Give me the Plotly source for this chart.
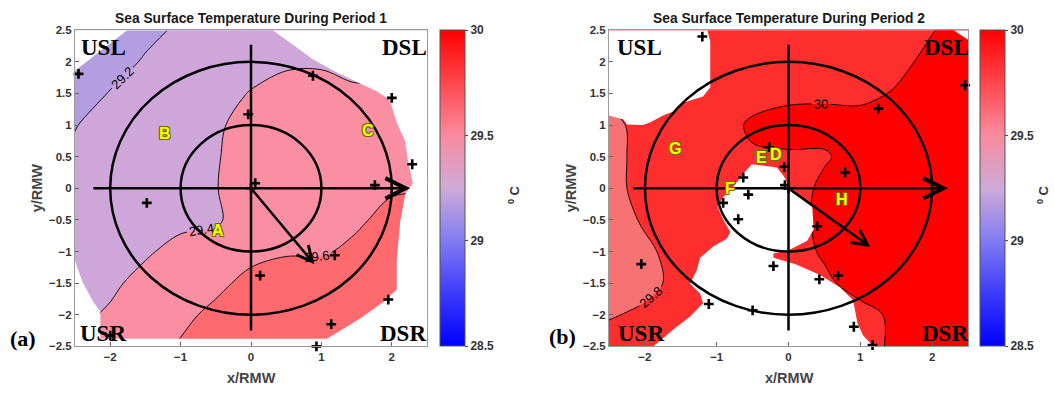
import plotly.graph_objects as go

# ---------------- data ----------------
grid_x = [-2.5, -2.0, -1.5, -1.0, -0.5, 0.0, 0.5, 1.0, 1.5, 2.0, 2.5]
grid_y = [-2.5, -2.0, -1.5, -1.0, -0.5, 0.0, 0.5, 1.0, 1.5, 2.0, 2.5]

# SST (deg C), rows = grid_y (bottom -> top), cols = grid_x
sst_period1 = [
    [29.40, 29.45, 29.52, 29.62, 29.68, 29.72, 29.74, 29.76, 29.77, 29.78, 29.79],
    [29.36, 29.42, 29.48, 29.55, 29.65, 29.70, 29.72, 29.72, 29.74, 29.75, 29.76],
    [29.33, 29.37, 29.45, 29.50, 29.55, 29.66, 29.68, 29.68, 29.70, 29.72, 29.74],
    [29.30, 29.33, 29.38, 29.45, 29.47, 29.54, 29.585, 29.585, 29.63, 29.67, 29.70],
    [29.27, 29.30, 29.33, 29.36, 29.38, 29.48, 29.52, 29.56, 29.58, 29.64, 29.66],
    [29.25, 29.28, 29.31, 29.35, 29.395, 29.47, 29.52, 29.55, 29.57, 29.585, 29.59],
    [29.22, 29.27, 29.30, 29.34, 29.39, 29.46, 29.50, 29.52, 29.53, 29.53, 29.52],
    [29.195, 29.25, 29.30, 29.33, 29.38, 29.45, 29.50, 29.50, 29.50, 29.48, 29.45],
    [29.10, 29.21, 29.26, 29.30, 29.33, 29.41, 29.45, 29.46, 29.41, 29.42, 29.38],
    [29.00, 29.12, 29.22, 29.28, 29.30, 29.33, 29.38, 29.38, 29.38, 29.38, 29.38],
    [28.95, 29.05, 29.15, 29.23, 29.30, 29.32, 29.35, 29.35, 29.35, 29.35, 29.35],
]
sst_period2 = [
    [29.85, 29.88, 29.90, 29.91, 29.92, 29.93, 29.94, 29.96, 30.02, 30.08, 30.10],
    [29.79, 29.82, 29.88, 29.90, 29.92, 29.93, 29.94, 29.95, 30.03, 30.10, 30.12],
    [29.72, 29.77, 29.83, 29.87, 29.90, 29.93, 29.97, 30.06, 30.10, 30.12, 30.12],
    [29.74, 29.785, 29.83, 29.88, 29.90, 29.93, 30.02, 30.06, 30.10, 30.12, 30.12],
    [29.76, 29.81, 29.88, 29.90, 29.92, 29.95, 30.03, 30.08, 30.10, 30.12, 30.12],
    [29.77, 29.83, 29.88, 29.90, 29.92, 29.93, 30.03, 30.08, 30.10, 30.12, 30.12],
    [29.75, 29.85, 29.88, 29.90, 29.985, 29.985, 29.985, 30.06, 30.10, 30.12, 30.12],
    [29.75, 29.86, 29.90, 29.94, 30.02, 30.05, 30.05, 30.05, 30.07, 30.10, 30.12],
    [29.85, 29.88, 29.90, 29.93, 29.95, 29.97, 29.975, 29.97, 30.01, 30.06, 30.10],
    [29.90, 29.90, 29.90, 29.92, 29.93, 29.94, 29.95, 29.96, 29.97, 30.03, 30.08],
    [29.90, 29.90, 29.90, 29.92, 29.93, 29.94, 29.95, 29.96, 29.97, 29.995, 30.05],
]

# contour levels
levels_period1 = [29.2, 29.6, 0.2]   # start, end, step
levels_period2 = [29.8, 30.0, 0.2]

# band fill colours (below first level ... above last level)
bands_period1 = ["rgb(180,158,226)", "rgb(207,166,218)", "rgb(250,143,163)", "rgb(255,106,110)"]
bands_period2 = ["rgb(247,114,114)", "rgb(255,46,46)", "rgb(255,0,0)"]

# colour bar scale (28.5 -> 30)
cbar_range = [28.5, 30.0]
cbar_ticks = [28.5, 29.0, 29.5, 30.0]
cbar_scale = [[0.0, "rgb(0,0,255)"], [0.17, "rgb(62,60,250)"], [0.33, "rgb(128,122,242)"],
              [0.5, "rgb(206,170,215)"], [0.67, "rgb(250,137,157)"], [0.83, "rgb(255,72,78)"],
              [1.0, "rgb(255,0,0)"]]

# regions without data (white) -- polygon vertices in x/RMW, y/RMW
p1_nodata_a_x = [-2.5, -1.76, -2.5]
p1_nodata_a_y = [2.5, 2.5, 1.86]
p1_edge_x = [0.31, 0.6, 0.88, 1.17, 1.55, 1.79, 1.97, 2.07, 2.19, 2.23, 2.3, 2.19, 2.12, 2.07,
             2.07, 1.88, 1.55, 1.26, 1.08, -2.14, -2.14, -2.24, -2.39, -2.5]
p1_edge_y = [2.5, 2.27, 2.04, 1.86, 1.66, 1.53, 1.4, 1.04, 0.74, 0.43, 0.08, -0.1, -0.52, -1.13,
             -1.6, -1.8, -2.06, -2.25, -2.38, -2.38, -1.95, -1.8, -1.49, -1.15]

p2_nodata_a_x = [-2.5, -1.13, -1.09, -1.09, -1.19, -1.48, -1.55, -1.75, -1.93, -2.03, -2.25, -2.3, -2.5]
p2_nodata_a_y = [2.5, 2.5, 2.32, 1.6, 1.45, 1.35, 1.24, 1.15, 1.04, 1.0, 1.01, 1.09, 1.15]
p2_nodata_b_x = [-0.51, -0.16, -0.07, 0.02, 0.14, 0.33, 0.35, 0.26, 0.0, -0.21, -0.21, -0.07, 0.1,
                 0.44, 0.72, 0.9, 0.96, 1.04, 1.18, -1.88, -1.6, -1.37, -1.19, -1.23, -1.37, -1.28,
                 -1.23, -1.05, -0.86, -0.81, -0.91, -0.99, -0.91, -0.77, -0.63]
p2_nodata_b_y = [0.38, 0.33, 0.2, 0.02, -0.1, -0.26, -0.65, -0.83, -0.98, -1.03, -1.1, -1.15, -1.2,
                 -1.37, -1.57, -1.77, -2.13, -2.33, -2.5, -2.5, -2.23, -2.03, -1.82, -1.67, -1.51,
                 -1.3, -1.1, -0.92, -0.8, -0.69, -0.49, -0.29, -0.14, 0.02, 0.23]
p2_nodata_c_x = [2.3, 2.5, 2.5]
p2_nodata_c_y = [2.5, 2.5, 2.35]

# observation points (+)
obs1_x = [-2.45, 0.88, 2.0, -0.04, 0.06, 0.0, 1.76, 2.29, -1.48, 1.19, 0.13, 1.95, 1.14, 0.93, -2.0]
obs1_y = [1.81, 1.78, 1.43, 1.17, 0.08, 0.0, 0.05, 0.38, -0.23, -1.06, -1.38, -1.76, -2.15, -2.5, -2.33]
obs2_x = [-1.2, 2.46, 1.25, -0.27, -0.06, -0.63, 0.79, -0.05, 0.0, -0.56, -0.91, -0.7, 0.4,
          -0.21, 0.69, 0.43, -2.05, -1.11, -0.5, 0.91, 1.17]
obs2_y = [2.4, 1.63, 1.26, 0.65, 0.34, 0.17, 0.25, 0.05, 0.0, -0.1, -0.23, -0.49, -0.6,
          -1.23, -1.38, -1.44, -1.2, -1.83, -1.93, -2.19, -2.48]

# site letters
sites1 = ["A", "B", "C"]
sites1_x = [-0.47, -1.22, 1.66]
sites1_y = [-0.67, 0.86, 0.92]
sites2 = ["G", "E", "D", "F", "H"]
sites2_x = [-1.58, -0.38, -0.17, -0.81, 0.74]
sites2_y = [0.63, 0.48, 0.54, 0.0, -0.17]

quadrants = ["USL", "DSL", "USR", "DSR"]
quad1_x = [-2.1, 2.18, -2.1, 2.16]
quad2_x = [-2.07, 2.2, -2.05, 2.18]
quad_y = [2.22, 2.22, -2.3, -2.3]

ring_radii = [1.0, 2.0]
arrow1_tip = [0.9, -1.2]
arrow2_tip = [1.14, -0.93]

titles = ["Sea Surface Temperature During Period 1", "Sea Surface Temperature During Period 2"]
panel_tags = ["(a)", "(b)"]

# ---------------- figure ----------------
W, H = 1054, 395
SANS = "Liberation Sans, Arial, sans-serif"
SERIF = "Liberation Serif, Times New Roman, serif"
px_x = lambda p: p / W
px_y = lambda p: 1 - p / H

dom1 = [px_x(75), px_x(427)]
dom2 = [px_x(609), px_x(968)]
ydom = [px_y(351), px_y(25)]


def stepped(colors):
    n = len(colors) - 1
    return [[i / n, c] for i, c in enumerate(colors)]


fig = go.Figure()

panels = [
    dict(xa="x", ya="y", z=sst_period1, lev=levels_period1, bands=bands_period1,
         masks=[(p1_nodata_a_x, p1_nodata_a_y),
                (p1_edge_x + [-2.5, 2.5, 2.5], p1_edge_y + [-2.5, -2.5, 2.5])],
         ox=obs1_x, oy=obs1_y, cbx=440, sites=(sites1, sites1_x, sites1_y), qx=quad1_x,
         tip=arrow1_tip, title=titles[0], tag=panel_tags[0], tagx=23, tagy=343,
         cx=251, ylab_x=37, unit_x=514, hx=(-2.26, 2.26)),
    dict(xa="x2", ya="y2", z=sst_period2, lev=levels_period2, bands=bands_period2,
         masks=[(p2_nodata_a_x, p2_nodata_a_y), (p2_nodata_b_x, p2_nodata_b_y),
                (p2_nodata_c_x, p2_nodata_c_y)],
         ox=obs2_x, oy=obs2_y, cbx=980, sites=(sites2, sites2_x, sites2_y), qx=quad2_x,
         tip=arrow2_tip, title=titles[1], tag=panel_tags[1], tagx=562, tagy=341,
         cx=789, ylab_x=571, unit_x=1043, hx=(-2.18, 2.22)),
]

annotations = []
shapes = []


def paper_text(x, y, text, font, angle=0):
    return dict(x=px_x(x), y=px_y(y), xref="paper", yref="paper", text=text, showarrow=False,
                xanchor="center", yanchor="middle", textangle=angle, font=font)


for p in panels:
    fig.add_trace(go.Contour(
        x=grid_x, y=grid_y, z=p["z"], xaxis=p["xa"], yaxis=p["ya"],
        autocontour=False,
        contours=dict(start=p["lev"][0], end=p["lev"][1], size=p["lev"][2], coloring="fill",
                      showlabels=True,
                      labelfont=dict(family=SANS, size=13, color="black")),
        colorscale=stepped(p["bands"]), showscale=False,
        line=dict(color="black", width=0.9, smoothing=1.0),
        hoverinfo="skip"))
    for mx, my in p["masks"]:
        fig.add_trace(go.Scatter(x=mx, y=my, xaxis=p["xa"], yaxis=p["ya"], mode="lines",
                                 fill="toself", fillcolor="white", line=dict(width=0, color="white"),
                                 hoverinfo="skip", showlegend=False))
    fig.add_trace(go.Scatter(x=p["ox"], y=p["oy"], xaxis=p["xa"], yaxis=p["ya"], mode="markers",
                             marker=dict(symbol="cross-thin", size=7, line=dict(width=2.6, color="black")),
                             hoverinfo="skip", showlegend=False, cliponaxis=False))
    # colour bar carrier (no visible points)
    fig.add_trace(go.Scatter(
        x=[None], y=[None], xaxis=p["xa"], yaxis=p["ya"], mode="markers", showlegend=False,
        marker=dict(color=[cbar_range[0]], cmin=cbar_range[0], cmax=cbar_range[1],
                    colorscale=cbar_scale, showscale=True,
                    colorbar=dict(x=px_x(p["cbx"]), xanchor="left", y=1 - 188 / H, yanchor="middle",
                                  len=326 / H, lenmode="fraction", thickness=25, thicknessmode="pixels",
                                  xpad=0, ypad=0, outlinewidth=1, outlinecolor="#555",
                                  tickvals=cbar_ticks, ticktext=[f"{v:g}" for v in cbar_ticks],
                                  ticks="outside", ticklen=3, tickcolor="#444",
                                  tickfont=dict(family=SANS, size=12, color="#333", weight="bold")))))

    # rings and cross hair
    for r in ring_radii:
        shapes.append(dict(type="circle", xref=p["xa"], yref=p["ya"], x0=-r, y0=-r, x1=r, y1=r,
                           line=dict(color="black", width=2.5), layer="above"))
    shapes.append(dict(type="line", xref=p["xa"], yref=p["ya"], x0=0, y0=-2.25, x1=0, y1=2.27,
                       line=dict(color="black", width=2.5), layer="above"))
    # arrows
    annotations.append(dict(x=p["hx"][1], y=0, ax=p["hx"][0], ay=0, xref=p["xa"], yref=p["ya"],
                            axref=p["xa"], ayref=p["ya"], text="", showarrow=True, arrowhead=5,
                            arrowsize=1.6, arrowwidth=2.5, arrowcolor="black"))
    annotations.append(dict(x=p["tip"][0], y=p["tip"][1], ax=0, ay=0, xref=p["xa"], yref=p["ya"],
                            axref=p["xa"], ayref=p["ya"], text="", showarrow=True, arrowhead=5,
                            arrowsize=1.2, arrowwidth=2.5, arrowcolor="black"))
    # site letters
    names, sx, sy = p["sites"]
    for n, x, y in zip(names, sx, sy):
        annotations.append(dict(x=x, y=y, xref=p["xa"], yref=p["ya"], text=n, showarrow=False,
                                font=dict(family=SANS, size=16, color="#ffff00", weight="bold",
                                          shadow="1px 1px 0 #6b6b00, -1px -1px 0 #6b6b00, "
                                                 "1px -1px 0 #6b6b00, -1px 1px 0 #6b6b00")))
    # quadrant names
    for n, x, y in zip(quadrants, p["qx"], quad_y):
        annotations.append(dict(x=x, y=y, xref=p["xa"], yref=p["ya"], text=n, showarrow=False,
                                font=dict(family=SERIF, size=23, color="black", weight="bold")))
    # texts around the panel
    annotations.append(paper_text(p["cx"], 13, p["title"],
                                  dict(family=SANS, size=13.8, color="#1a1a1a", weight="bold")))
    annotations.append(paper_text(p["cx"], 384, "x/RMW",
                                  dict(family=SANS, size=14.5, color="#444", weight="bold")))
    annotations.append(paper_text(p["ylab_x"], 188, "y/RMW",
                                  dict(family=SANS, size=14.5, color="#444", weight="bold"), -90))
    annotations.append(paper_text(p["unit_x"], 195, "<sup>0</sup> C",
                                  dict(family=SANS, size=13, color="#333", weight="bold"), -90))
    annotations.append(paper_text(p["tagx"], p["tagy"], p["tag"],
                                  dict(family=SERIF, size=22, color="black", weight="bold")))

axis_common = dict(range=[-2.5, 2.5], showgrid=True, gridcolor="#e3e3e3", zeroline=False,
                   showline=True, linecolor="#9a9a9a", linewidth=1, mirror=True,
                   ticks="inside", ticklen=4, tickcolor="#666",
                   tickfont=dict(family=SANS, size=11.5, color="#333", weight="bold"))

fig.update_layout(
    width=W, height=H, margin=dict(l=0, r=0, t=0, b=0),
    paper_bgcolor="white", plot_bgcolor="white", showlegend=False,
    xaxis=dict(domain=dom1, anchor="y", tickvals=[-2, -1, 0, 1, 2], **axis_common),
    yaxis=dict(domain=ydom, anchor="x", tick0=-2.5, dtick=0.5, **axis_common),
    xaxis2=dict(domain=dom2, anchor="y2", tickvals=[-2, -1, 0, 1, 2], **axis_common),
    yaxis2=dict(domain=ydom, anchor="x2", tick0=-2.5, dtick=0.5, **axis_common),
    annotations=annotations, shapes=shapes,
)

fig.write_html("out.html")
